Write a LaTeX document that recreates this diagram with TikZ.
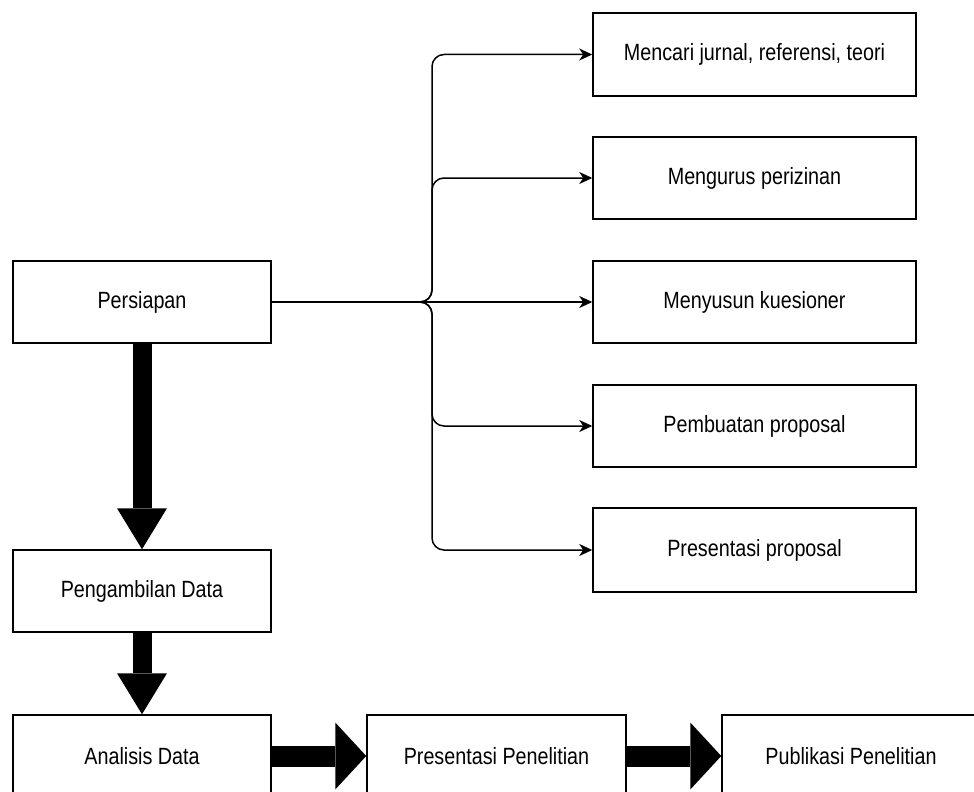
\documentclass[tikz,border=0pt]{standalone}
\usepackage{fontspec}
\setmainfont[FakeStretch=0.84]{Liberation Sans}
\usetikzlibrary{arrows.meta,calc}
\begin{document}
\begin{tikzpicture}[x=1pt,y=-1pt,
  box/.style={draw=black,line width=1.5pt,fill=white,inner sep=0pt,align=center,
    font=\fontsize{23.5}{27}\selectfont},
  lbox/.style={box,minimum width=258pt,minimum height=82pt},
  rbox/.style={box,minimum width=323pt,minimum height=83pt},
  thin/.style={line width=1.5pt,rounded corners=12pt,
    -{Stealth[length=13pt,width=12pt,inset=4pt]}},
  vthick/.style={line width=19pt,-{Triangle[length=41pt,width=50pt,line width=0pt]}},
  hthick/.style={line width=21pt,-{Triangle[length=31pt,width=67pt,line width=0pt]}}]
\useasboundingbox (0,0) rectangle (974,792);
\fill[white] (0,0) rectangle (974,792);

\node[lbox] (pers) at (142,302) {Persiapan};
\node[lbox] (peng) at (142,591) {Pengambilan Data};
\node[lbox] (anal) at (142,756) {Analisis Data};
\node[lbox,minimum width=259pt] (pres) at (496.5,756) {Presentasi Penelitian};
\node[lbox] (pub) at (851,756) {Publikasi Penelitian};

\node[rbox] (r1) at (754.5,54.5) {Mencari jurnal, referensi, teori};
\node[rbox,minimum height=82pt] (r2) at (754.5,178) {Mengurus perizinan};
\node[rbox,minimum height=82pt] (r3) at (754.5,302) {Menyusun kuesioner};
\node[rbox,minimum height=82pt] (r4) at (754.5,426) {Pembuatan proposal};
\node[rbox,minimum height=84pt] (r5) at (754.5,550) {Presentasi proposal};

\coordinate (j) at (432,302);
\foreach \t in {r1,r2,r4,r5}{
  \draw[thin] (pers.east) -- (j) |- (\t.west);
}
\draw[thin] (pers.east) -- (r3.west);

\draw[vthick] (pers.south) -- (peng.north);
\draw[vthick] (peng.south) -- (anal.north);
\draw[hthick] (anal.east) -- (pres.west);
\draw[hthick] (pres.east) -- (pub.west);
\end{tikzpicture}
\end{document}
